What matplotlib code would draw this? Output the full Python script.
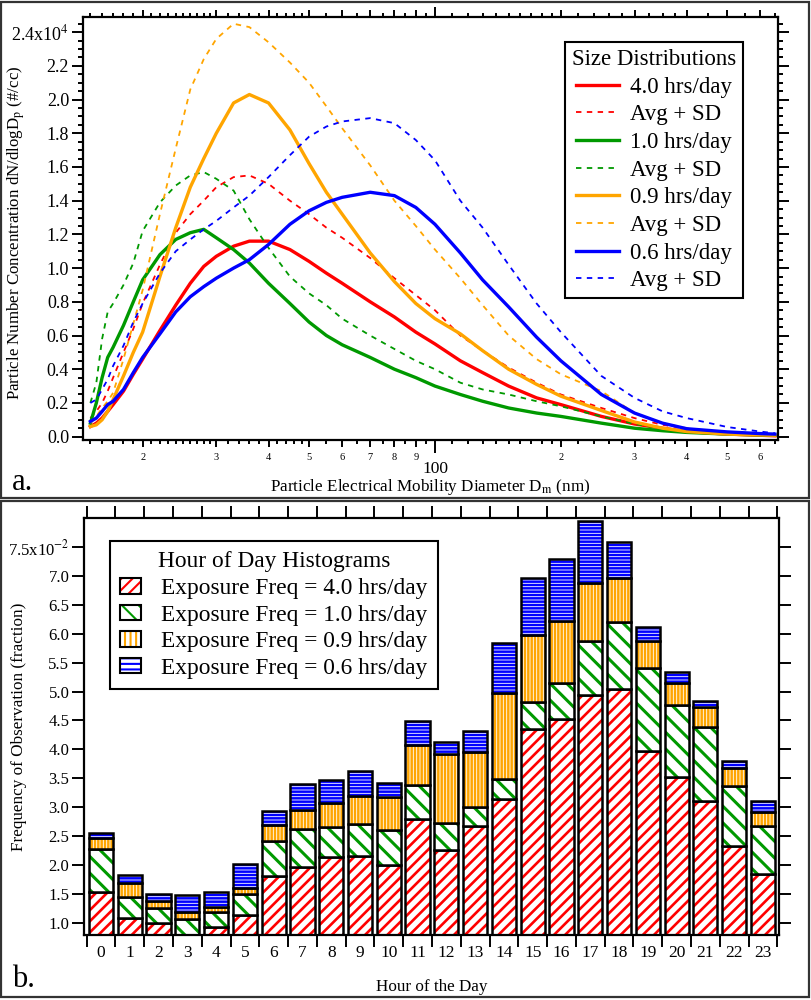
import numpy as np
import matplotlib
matplotlib.use("Agg")
import matplotlib.pyplot as plt
from matplotlib.patches import Patch, Rectangle
from matplotlib.legend_handler import HandlerTuple
from matplotlib.ticker import MultipleLocator, FixedLocator, NullFormatter
import matplotlib.transforms as mtransforms

plt.rcParams["font.family"] = ["Liberation Serif", "DejaVu Serif"]
plt.rcParams["mathtext.fontset"] = "stix"
plt.rcParams["hatch.linewidth"] = 1.5

# ---- panel a: size distributions (dN/dlogDp, units of 1e4 #/cc) ----
diameter_nm = [15, 15.5, 16, 16.5, 17, 18, 19, 20, 22, 24, 26, 28, 30, 33, 36, 40, 45, 50,
               55, 60, 70, 80, 90, 100, 115, 130, 150, 175, 200, 250, 300, 350, 400, 500,
               600, 650]

avg_4_0 = [0.06, 0.08, 0.11, 0.15, 0.19, 0.27, 0.37, 0.46, 0.63, 0.78, 0.91, 1.01, 1.07, 1.13,
           1.16, 1.16, 1.11, 1.04, 0.97, 0.91, 0.80, 0.71, 0.62, 0.55, 0.45, 0.38, 0.30, 0.23,
           0.19, 0.12, 0.075, 0.05, 0.03, 0.015, 0.008, 0.005]
sd_4_0 = [0.11, 0.15, 0.20, 0.27, 0.35, 0.50, 0.64, 0.79, 1.02, 1.21, 1.32, 1.40, 1.48, 1.54,
          1.55, 1.50, 1.40, 1.32, 1.24, 1.18, 1.06, 0.94, 0.84, 0.75, 0.60, 0.51, 0.41, 0.32,
          0.25, 0.17, 0.11, 0.07, 0.047, 0.025, 0.012, 0.01]
avg_1_0 = [0.08, 0.20, 0.35, 0.47, 0.53, 0.66, 0.80, 0.93, 1.08, 1.17, 1.21, 1.23, 1.18, 1.11,
           1.03, 0.91, 0.79, 0.68, 0.60, 0.545, 0.47, 0.40, 0.35, 0.30, 0.25, 0.21, 0.17, 0.14,
           0.12, 0.08, 0.05, 0.035, 0.025, 0.015, 0.01, 0.008]
sd_1_0 = [0.20, 0.32, 0.58, 0.74, 0.79, 0.90, 1.03, 1.22, 1.39, 1.49, 1.55, 1.57, 1.53, 1.46,
          1.29, 1.12, 0.95, 0.85, 0.78, 0.70, 0.60, 0.52, 0.45, 0.40, 0.32, 0.28, 0.25, 0.21,
          0.18, 0.12, 0.075, 0.047, 0.03, 0.015, 0.01, 0.008]
avg_0_9 = [0.06, 0.07, 0.10, 0.15, 0.22, 0.36, 0.50, 0.62, 0.95, 1.24, 1.48, 1.65, 1.80, 1.98,
           2.03, 1.98, 1.82, 1.62, 1.45, 1.32, 1.09, 0.92, 0.79, 0.70, 0.61, 0.51, 0.40, 0.31,
           0.24, 0.155, 0.087, 0.05, 0.03, 0.015, 0.01, 0.008]
sd_0_9 = [0.08, 0.12, 0.17, 0.21, 0.26, 0.46, 0.67, 0.87, 1.32, 1.71, 2.06, 2.24, 2.36, 2.45,
          2.43, 2.34, 2.22, 2.10, 1.96, 1.83, 1.61, 1.40, 1.25, 1.11, 0.94, 0.78, 0.60, 0.46,
          0.37, 0.27, 0.14, 0.08, 0.05, 0.025, 0.012, 0.01]
avg_0_6 = [0.09, 0.11, 0.15, 0.19, 0.21, 0.28, 0.38, 0.47, 0.61, 0.74, 0.83, 0.89, 0.94, 1.00,
           1.05, 1.14, 1.26, 1.34, 1.39, 1.42, 1.45, 1.43, 1.36, 1.26, 1.09, 0.93, 0.77, 0.59,
           0.45, 0.25, 0.14, 0.08, 0.047, 0.028, 0.018, 0.015]
sd_0_6 = [0.20, 0.22, 0.28, 0.34, 0.42, 0.54, 0.68, 0.79, 0.97, 1.10, 1.17, 1.23, 1.28, 1.36,
          1.43, 1.54, 1.67, 1.78, 1.84, 1.87, 1.89, 1.86, 1.76, 1.64, 1.40, 1.24, 1.02, 0.79,
          0.62, 0.36, 0.23, 0.15, 0.11, 0.057, 0.03, 0.02]

size_labels = ["4.0 hrs/day", "1.0 hrs/day", "0.9 hrs/day", "0.6 hrs/day"]

# ---- panel b: hour-of-day histograms (fraction, units of 1e-2) ----
hours = list(range(24))
freq_4_0 = [1.54, 1.08, 1.00, 0.79, 0.92, 1.13, 1.81, 1.96, 2.13, 2.16, 2.00, 2.79, 2.26, 2.67,
            3.15, 4.36, 4.52, 4.94, 5.04, 3.97, 3.52, 3.11, 2.33, 1.84]
freq_1_0 = [0.74, 0.36, 0.26, 0.27, 0.26, 0.37, 0.61, 0.66, 0.53, 0.55, 0.61, 0.60, 0.47, 0.33,
            0.33, 0.46, 0.63, 0.93, 1.17, 1.43, 1.25, 1.27, 1.04, 0.84]
freq_0_9 = [0.19, 0.25, 0.11, 0.12, 0.10, 0.10, 0.27, 0.33, 0.41, 0.49, 0.56, 0.69, 1.19, 0.96,
            1.49, 1.16, 1.07, 1.00, 0.75, 0.47, 0.37, 0.36, 0.30, 0.24]
freq_0_6 = [0.09, 0.13, 0.13, 0.31, 0.25, 0.42, 0.25, 0.45, 0.40, 0.43, 0.24, 0.41, 0.20, 0.36,
            0.87, 0.99, 1.07, 1.07, 0.63, 0.25, 0.19, 0.10, 0.12, 0.19]
hist_labels = ["Exposure Freq = 4.0 hrs/day", "Exposure Freq = 1.0 hrs/day",
               "Exposure Freq = 0.9 hrs/day", "Exposure Freq = 0.6 hrs/day"]

colors = ["#ff0000", "#009900", "#ffa500", "#0000ff"]
hatches = ["///", "\\\\", "|||||", "-----"]
legend_hatches = ["///", "\\\\", "|||", "---"]
hatch_widths = [1.9, 2.2, 1.8, 1.8]

fig = plt.figure(figsize=(8.11, 10), dpi=100)

# panel frames
for y0 in (0.502, 0.003):
    fig.patches.append(Rectangle((0.0015, y0), 0.9955, 0.4965, transform=fig.transFigure,
                                 fill=False, lw=1.6, edgecolor="#333333"))

# ---------------- panel a ----------------
ax1 = fig.add_axes([0.1023, 0.560, 0.857, 0.423])
for avg, sd, c, lab in zip([avg_4_0, avg_1_0, avg_0_9, avg_0_6],
                           [sd_4_0, sd_1_0, sd_0_9, sd_0_6], colors, size_labels):
    ax1.plot(diameter_nm, avg, color=c, lw=2.4, label=lab)
    ax1.plot(diameter_nm, sd, color=c, lw=1.3, ls=(0, (3, 3)), label="Avg + SD")

ax1.set_xscale("log")
ax1.set_xlim(14.4, 661)
ax1.set_ylim(-0.02, 2.49)

xmaj = [20, 30, 40, 50, 60, 70, 80, 90, 100, 200, 300, 400, 500, 600]
xmaj_lab = ["2", "3", "4", "5", "6", "7", "8", "9", "", "2", "3", "4", "5", "6"]
xmin = ([15, 16, 17, 18, 19] + list(range(21, 30)) + list(range(32, 50, 2)) +
        list(range(55, 100, 5)) + list(range(110, 200, 10)) + list(range(220, 300, 20)) +
        [325, 350, 375, 450, 550, 650])
ax1.xaxis.set_major_locator(FixedLocator(xmaj))
ax1.xaxis.set_minor_locator(FixedLocator(xmin))
ax1.set_xticks(xmaj)
ax1.set_xticklabels(xmaj_lab)
ax1.xaxis.set_minor_formatter(NullFormatter())

yt = np.round(np.arange(0, 2.41, 0.2), 1)
ax1.set_yticks(yt)
ax1.set_yticklabels([f"{v:.1f}" for v in yt[:-1]] + [r"2.4x10$^{4}$"])
ax1.yaxis.set_minor_locator(MultipleLocator(0.05))

ax1.tick_params(which="both", direction="out", top=True, right=True, width=1.4)
ax1.tick_params(axis="y", which="major", length=8, labelsize=13, pad=2)
ax1.tick_params(axis="y", which="minor", length=3.5)
ax1.tick_params(axis="x", which="major", length=5, labelsize=7.5, pad=4)
ax1.tick_params(axis="x", which="minor", length=3)
for sp in ax1.spines.values():
    sp.set_linewidth(1.6)

for t, v in zip(ax1.xaxis.get_major_ticks(), xmaj):
    if v == 100:
        t.tick1line.set_markersize(9)
        t.tick2line.set_markersize(7)

trans1 = mtransforms.blended_transform_factory(ax1.transData, ax1.transAxes)
ax1.text(100, -0.068, "100", transform=trans1, ha="center", va="center", fontsize=12.5)

ax1.set_ylabel(r"Particle Number Concentration dN/dlogD$_\mathrm{p}$ (#/cc)", fontsize=12.2)
ax1.yaxis.set_label_coords(-0.081, 0.49)
ax1.set_xlabel(r"Particle Electrical Mobility Diameter D$_\mathrm{m}$ (nm)", fontsize=12.3)
ax1.xaxis.set_label_coords(0.5, -0.088)

leg1 = ax1.legend(title="Size Distributions", loc="upper right", bbox_to_anchor=(0.916, 0.958),
                  bbox_transform=fig.transFigure, fancybox=False, edgecolor="black",
                  framealpha=1, fontsize=16.5, title_fontsize=16.5, handlelength=1.9,
                  labelspacing=0.29, borderpad=0.3, handletextpad=0.45, borderaxespad=0)
leg1.get_frame().set_linewidth(1.5)

# ---------------- panel b ----------------
ax2 = fig.add_axes([0.1036, 0.065, 0.857, 0.417])
bottom = np.zeros(len(hours))
handles = []
for vals, c, h, lh, hw in zip([freq_4_0, freq_1_0, freq_0_9, freq_0_6], colors, hatches,
                              legend_hatches, hatch_widths):
    vals = np.array(vals)
    bars = ax2.bar(hours, vals, width=0.84, bottom=bottom, color="white", edgecolor=c,
                   hatch=h, lw=0)
    for b in bars:
        if hasattr(b, "set_hatch_linewidth"):
            b.set_hatch_linewidth(hw)
    ax2.bar(hours, vals, width=0.84, bottom=bottom, color="none", edgecolor="black", lw=1.8)
    bottom = bottom + vals
    hp = Patch(facecolor="white", edgecolor=c, hatch=lh, lw=0)
    if hasattr(hp, "set_hatch_linewidth"):
        hp.set_hatch_linewidth(hw)
    handles.append((hp, Patch(facecolor="none", edgecolor="black", lw=1.5)))

ax2.set_xlim(-0.59, 23.56)
ax2.set_ylim(0.79, 8.0)
ax2.set_xticks(np.arange(-0.5, 24, 1))
ax2.set_xticklabels([])
ax2.set_xticks(hours, minor=True)
ax2.set_xticklabels([str(h) for h in hours], minor=True)
yt2 = np.round(np.arange(1.0, 7.51, 0.5), 1)
ax2.set_yticks(yt2)
ax2.set_yticklabels([f"{v:.1f}" for v in yt2[:-1]] + [r"7.5x10$^{-2}$"])

ax2.tick_params(which="both", direction="out", top=True, right=True, width=1.4)
ax2.tick_params(axis="x", which="major", length=8.5)
ax2.tick_params(axis="x", which="minor", length=0, labelsize=12.5, pad=7, top=False)
ax2.tick_params(axis="y", which="major", length=8.5, labelsize=12, pad=2)
for sp in ax2.spines.values():
    sp.set_linewidth(1.6)

ax2.set_ylabel("Frequency of Observation (fraction)", fontsize=12.3)
ax2.yaxis.set_label_coords(-0.082, 0.5)
ax2.set_xlabel("Hour of the Day", fontsize=12.3)
ax2.xaxis.set_label_coords(0.5, -0.105)

leg2 = ax2.legend(handles, hist_labels, handler_map={tuple: HandlerTuple(ndivide=1)},
                  title="Hour of Day Histograms", loc="upper left",
                  bbox_to_anchor=(0.1356, 0.459), bbox_transform=fig.transFigure,
                  fancybox=False, edgecolor="black", framealpha=1, fontsize=16.8,
                  title_fontsize=16.8, handlelength=0.9, handleheight=0.65, labelspacing=0.24,
                  borderpad=0.45, handletextpad=0.85, borderaxespad=0)
leg2.get_frame().set_linewidth(1.5)

fig.text(0.015, 0.51, "a.", fontsize=22, va="baseline")
fig.text(0.015, 0.013, "b.", fontsize=22, va="baseline")

fig.savefig("out.png", dpi=100)
